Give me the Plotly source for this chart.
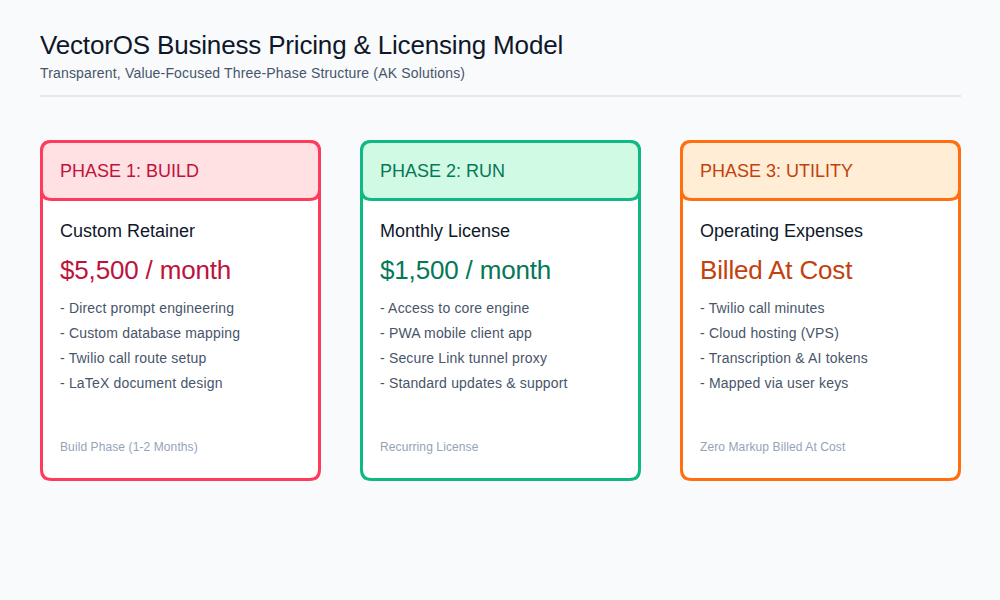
import plotly.graph_objects as go

title = "VectorOS Business Pricing &amp; Licensing Model"
subtitle = "Transparent, Value-Focused Three-Phase Structure (AK Solutions)"
phases = ["PHASE 1: BUILD", "PHASE 2: RUN", "PHASE 3: UTILITY"]
names = ["Custom Retainer", "Monthly License", "Operating Expenses"]
prices = ["$5,500 / month", "$1,500 / month", "Billed At Cost"]
bullets = [
    ["- Direct prompt engineering", "- Custom database mapping", "- Twilio call route setup", "- LaTeX document design"],
    ["- Access to core engine", "- PWA mobile client app", "- Secure Link tunnel proxy", "- Standard updates &amp; support"],
    ["- Twilio call minutes", "- Cloud hosting (VPS)", "- Transcription &amp; AI tokens", "- Mapped via user keys"],
]
footers = ["Build Phase (1-2 Months)", "Recurring License", "Zero Markup Billed At Cost"]
strokes = ["#ff3b5c", "#10b981", "#ff6f10"]
fills = ["#ffe1e4", "#d1fae5", "#ffedd5"]
accents = ["#be123c", "#047857", "#c2410c"]
card_left = [41.5, 361.5, 681.5]

FONT = "Arial, Liberation Sans, sans-serif"
W, T, H, HH, R = 278, 141.5, 338, 58, 10


def rrect(x, y, w, h, r):
    return (f"M{x + r},{y} H{x + w - r} Q{x + w},{y} {x + w},{y + r} V{y + h - r} "
            f"Q{x + w},{y + h} {x + w - r},{y + h} H{x + r} Q{x},{y + h} {x},{y + h - r} "
            f"V{y + r} Q{x},{y} {x + r},{y} Z")


shapes = [dict(type="rect", x0=40, x1=961, y0=95, y1=97, line_width=0, fillcolor="#e2e8f0", layer="below")]
annotations = []


def label(x, y, text, size, color):
    annotations.append(dict(x=x, y=y, text=text, showarrow=False, xanchor="left", yanchor="middle",
                            align="left", borderpad=0, font=dict(family=FONT, size=size, color=color)))


label(39, 45, title, 26, "#0f172a")
label(39, 73, subtitle, 14, "#475569")

for i, x in enumerate(card_left):
    shapes.append(dict(type="path", path=rrect(x, T, W, H, R), fillcolor="#ffffff",
                       line=dict(color=strokes[i], width=3)))
    shapes.append(dict(type="path", path=rrect(x, T, W, HH, R), fillcolor=fills[i],
                       line=dict(color=strokes[i], width=3)))
    tx = x + 17.5
    label(tx, 171, phases[i], 18, accents[i])
    label(tx, 231, names[i], 18, "#0f172a")
    label(tx, 270, prices[i], 26, accents[i])
    for j, b in enumerate(bullets[i]):
        label(tx, 308 + 25 * j, b, 14, "#475569")
    label(tx, 447, footers[i], 12, "#94a3b8")

fig = go.Figure()
fig.update_layout(
    width=1000, height=600, autosize=False, margin=dict(l=0, r=0, t=0, b=0),
    paper_bgcolor="#f8fafc", plot_bgcolor="#f8fafc", showlegend=False,
    shapes=shapes, annotations=annotations,
    xaxis=dict(range=[0, 1000], visible=False, fixedrange=True),
    yaxis=dict(range=[600, 0], visible=False, fixedrange=True),
)
page_css = ("document.body.style.margin='0';document.body.style.background='#f8fafc';"
            "var s=document.createElement('style');"
            "s.textContent='text[style*=\"font-size: 26px\"]{letter-spacing:-0.17px;}"
            "text[style*=\"font-size: 14px\"]{letter-spacing:0.17px;}"
            "text[style*=\"font-size: 12px\"]{letter-spacing:0.1px;}';"
            "document.head.appendChild(s);")
fig.write_html("out.html", config={"displayModeBar": False}, post_script=page_css)
